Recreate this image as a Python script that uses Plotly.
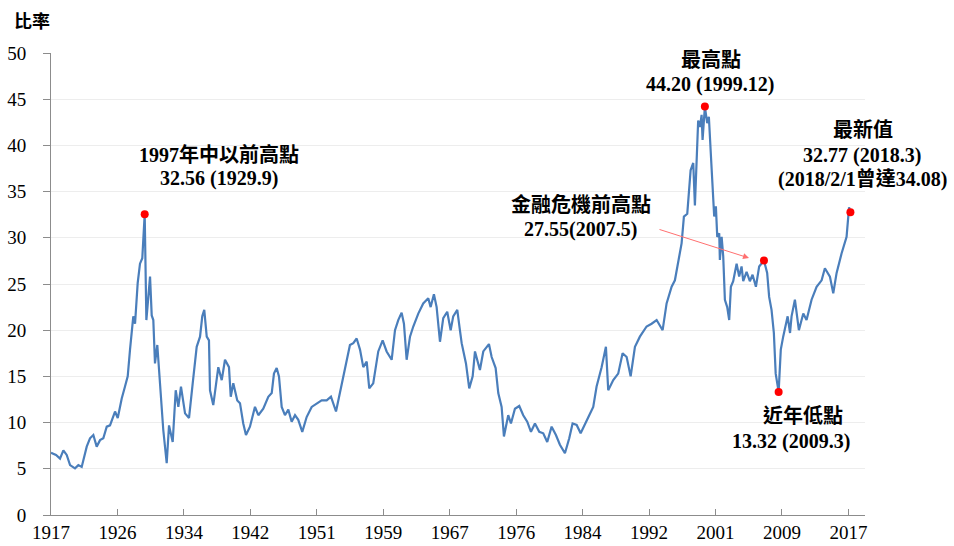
import plotly.graph_objects as go

# ---- data (decimal year, ratio) ----
years = [1917.92, 1918.55, 1919.05, 1919.47, 1919.89, 1920.31, 1920.93, 1921.35, 1921.77, 1922.40,
         1922.81, 1923.23, 1923.65, 1924.07, 1924.48, 1924.91, 1925.32, 1925.95, 1926.29, 1926.79,
         1927.20, 1927.54, 1927.83, 1928.24, 1928.46, 1928.79, 1929.08, 1929.37, 1929.67, 1929.88,
         1930.34, 1930.55, 1930.75, 1930.96, 1931.25, 1931.50, 1932.00, 1932.43, 1932.72, 1933.18,
         1933.56, 1933.89, 1934.22, 1934.73, 1935.23, 1935.69, 1936.19, 1936.61, 1936.89, 1937.14,
         1937.45, 1937.73, 1937.86, 1938.27, 1938.70, 1938.90, 1939.33, 1939.74, 1940.24, 1940.46,
         1940.78, 1941.28, 1941.62, 1942.03, 1942.37, 1942.87, 1943.50, 1943.92, 1944.54, 1945.17,
         1945.60, 1945.88, 1946.22, 1946.51, 1946.85, 1947.26, 1947.68, 1948.10, 1948.52, 1948.93,
         1949.43, 1949.98, 1950.61, 1951.24, 1951.86, 1952.49, 1953.03, 1953.66, 1954.16, 1954.57,
         1955.00, 1955.41, 1955.83, 1956.25, 1956.67, 1957.08, 1957.51, 1957.83, 1958.33, 1958.96,
         1959.51, 1960.01, 1960.64, 1961.06, 1961.47, 1961.89, 1962.18, 1962.52, 1962.94, 1963.35,
         1963.98, 1964.60, 1965.23, 1965.53, 1965.94, 1966.28, 1966.70, 1967.11, 1967.61, 1968.04,
         1968.36, 1968.87, 1969.20, 1969.42, 1969.96, 1970.37, 1970.80, 1971.09, 1971.71, 1972.13,
         1972.84, 1973.18, 1973.68, 1974.01, 1974.43, 1974.72, 1975.26, 1975.60, 1976.10, 1976.64,
         1977.14, 1977.64, 1978.11, 1978.61, 1979.15, 1979.65, 1980.15, 1980.70, 1981.24, 1981.74,
         1982.37, 1982.91, 1983.33, 1983.84, 1984.34, 1984.88, 1985.42, 1985.92, 1986.34, 1986.97,
         1987.51, 1987.80, 1988.43, 1989.05, 1989.60, 1990.11, 1990.61, 1991.15, 1991.77, 1992.61,
         1993.24, 1993.87, 1994.62, 1995.12, 1995.75, 1996.16, 1996.58, 1997.00, 1997.29, 1997.71,
         1998.13, 1998.46, 1998.67, 1998.88, 1999.08, 1999.30, 1999.51, 1999.63, 1999.92, 2000.21,
         2000.42, 2000.64, 2000.89, 2001.09, 2001.30, 2001.47, 2001.72, 2001.80, 2002.02, 2002.22,
         2002.43, 2002.72, 2002.97, 2003.18, 2003.47, 2003.90, 2004.22, 2004.52, 2004.73, 2005.15,
         2005.56, 2005.90, 2006.32, 2006.73, 2007.33, 2007.73, 2007.98, 2008.28, 2008.57, 2008.80,
         2009.17, 2009.44, 2009.74, 2010.30, 2010.60, 2010.79, 2011.21, 2011.71, 2012.26, 2012.67,
         2013.30, 2013.93, 2014.56, 2014.97, 2015.60, 2016.02, 2016.44, 2017.06, 2017.69, 2018.00,
         2018.17]

ratio = [6.74, 6.5, 6.1, 7.0, 6.5, 5.4, 5.05, 5.4, 5.2, 7.4,
         8.3, 8.66, 7.4, 8.1, 8.3, 9.56, 9.7, 11.2, 10.5, 12.6,
         13.9, 15.0, 17.9, 21.5, 20.7, 25.1, 27.2, 27.8, 32.56, 21.1,
         25.8, 21.6, 21.1, 16.4, 18.4, 15.3, 9.2, 5.6, 9.7, 7.9,
         13.5, 11.7, 13.9, 11.0, 10.5, 14.25, 18.2, 19.3, 21.5, 22.2,
         19.3, 18.9, 13.5, 11.9, 15.0, 16.0, 14.6, 16.8, 16.0, 12.8,
         14.25, 12.4, 12.1, 9.9, 8.66, 9.56, 11.7, 10.8, 11.5, 12.8,
         13.2, 15.3, 15.9, 15.0, 11.7, 10.8, 11.4, 10.1, 10.8, 10.3,
         9.0, 10.6, 11.7, 12.1, 12.4, 12.4, 12.8, 11.2, 13.2, 15.0,
         16.4, 18.4, 18.6, 19.1, 17.9, 16.0, 16.6, 13.7, 14.25, 17.7,
         18.9, 17.7, 16.8, 20.0, 21.1, 21.9, 20.7, 16.8, 19.3, 20.4,
         21.8, 22.9, 23.45, 22.5, 23.9, 22.5, 18.75, 21.3, 22.0, 20.0,
         21.5, 22.2, 20.0, 18.6, 16.4, 13.7, 15.0, 17.7, 15.7, 17.7,
         18.5, 17.1, 15.9, 13.2, 11.7, 8.5, 10.8, 9.9, 11.5, 11.8,
         10.8, 10.1, 9.0, 9.9, 9.0, 8.84, 7.9, 9.56, 8.66, 7.6,
         6.68, 8.3, 9.9, 9.74, 8.84, 9.9, 10.8, 11.7, 13.9, 16.0,
         18.2, 13.5, 14.6, 15.3, 17.5, 17.1, 15.0, 18.2, 19.3, 20.4,
         20.7, 21.1, 20.0, 22.9, 24.7, 25.4, 27.6, 29.4, 32.3, 32.6,
         37.3, 38.1, 33.5, 38.8, 42.7, 42.0, 43.3, 40.6, 44.2, 42.4,
         43.1, 39.5, 35.5, 32.3, 33.4, 30.1, 30.5, 27.6, 30.1, 28.0,
         23.3, 22.5, 21.1, 24.7, 25.3, 27.2, 25.8, 26.9, 25.3, 26.3,
         25.3, 26.0, 24.7, 26.9, 27.55, 26.2, 23.6, 22.2, 19.7, 15.3,
         13.32, 17.9, 19.3, 21.5, 19.7, 21.5, 23.3, 20.0, 21.8, 21.1,
         23.3, 24.7, 25.4, 26.7, 25.8, 24.0, 26.2, 28.3, 30.1, 33.3,
         32.77]

# highlighted points
mark_years = [1929.67, 1999.92, 2007.33, 2009.17, 2018.17]
mark_values = [32.56, 44.20, 27.55, 13.32, 32.77]

# x tick labels (one every 100 months, starting at the first observation)
tick_labels = ["1917", "1926", "1934", "1942", "1951", "1959", "1967",
               "1976", "1984", "1992", "2001", "2009", "2017"]
tick_vals = [years[0] + k * 100 / 12 for k in range(len(tick_labels))]

W, H = 954, 546
L, R, T, B = 51, 89, 53, 31
PW, PH = W - L - R, H - T - B

def px(x):
    return (x - L) / PW

def py(y):
    return (H - B - y) / PH

SERIF = "Liberation Serif, 'Noto Sans CJK TC', serif"

fig = go.Figure()
fig.add_trace(go.Scatter(x=years, y=ratio, mode="lines",
                         line=dict(color="#4A7EBB", width=2.2),
                         hoverinfo="skip", showlegend=False))
fig.add_trace(go.Scatter(x=mark_years, y=mark_values, mode="markers",
                         marker=dict(color="#FF0000", size=8),
                         showlegend=False))

labels = [
    ("1997年中以前高點", 219, 154),
    ("32.56 (1929.9)", 219, 178),
    ("最高點", 711, 60),
    ("44.20 (1999.12)", 710, 84),
    ("最新值", 863, 129),
    ("32.77 (2018.3)", 862, 155),
    ("(2018/2/1曾達34.08)", 862, 179),
    ("金融危機前高點", 581, 205),
    ("27.55(2007.5)", 580, 230),
    ("近年低點", 803, 416),
    ("13.32 (2009.3)", 791, 441),
]
annotations = []
for text, x, y in labels:
    annotations.append(dict(text="<b>" + text + "</b>", xref="paper", yref="paper",
                            x=px(x), y=py(y), xanchor="center", yanchor="middle",
                            showarrow=False, font=dict(family=SERIF, size=20, color="#000000")))
# y-axis title
annotations.append(dict(text="<b>比率</b>", xref="paper", yref="paper",
                        x=px(32), y=py(22), xanchor="center", yanchor="middle",
                        showarrow=False, font=dict(family=SERIF, size=18, color="#000000")))
# arrow to the pre-crisis high
annotations.append(dict(text="", xref="paper", yref="paper", x=px(749), y=py(258),
                        ax=658 - 749, ay=229 - 258, showarrow=True,
                        arrowhead=2, arrowsize=1.2, arrowwidth=1, arrowcolor="#FF7070"))

fig.update_layout(
    width=W, height=H,
    margin=dict(l=L, r=R, t=T, b=B, pad=0, autoexpand=False),
    paper_bgcolor="white", plot_bgcolor="white",
    annotations=annotations,
    xaxis=dict(range=[years[0], 2020.0], tickvals=tick_vals, ticktext=tick_labels,
               automargin=False,
               showgrid=False, zeroline=False, showline=True, linecolor="#8C8C8C", linewidth=1,
               ticks="inside", ticklen=6, tickcolor="#8C8C8C",
               tickfont=dict(family=SERIF, size=19, color="#000000")),
    yaxis=dict(range=[0, 50], dtick=5, showgrid=True, gridcolor="#EDEDED", gridwidth=1,
               automargin=False,
               zeroline=False, showline=True, linecolor="#8C8C8C", linewidth=1,
               ticks="outside", ticklen=7, tickcolor="#8C8C8C", ticklabelstandoff=13,
               tickfont=dict(family=SERIF, size=19, color="#000000")),
)

fig.write_html("out.html",
               config={"displayModeBar": False},
               post_script="document.body.style.margin='0';document.body.style.overflow='hidden';")
